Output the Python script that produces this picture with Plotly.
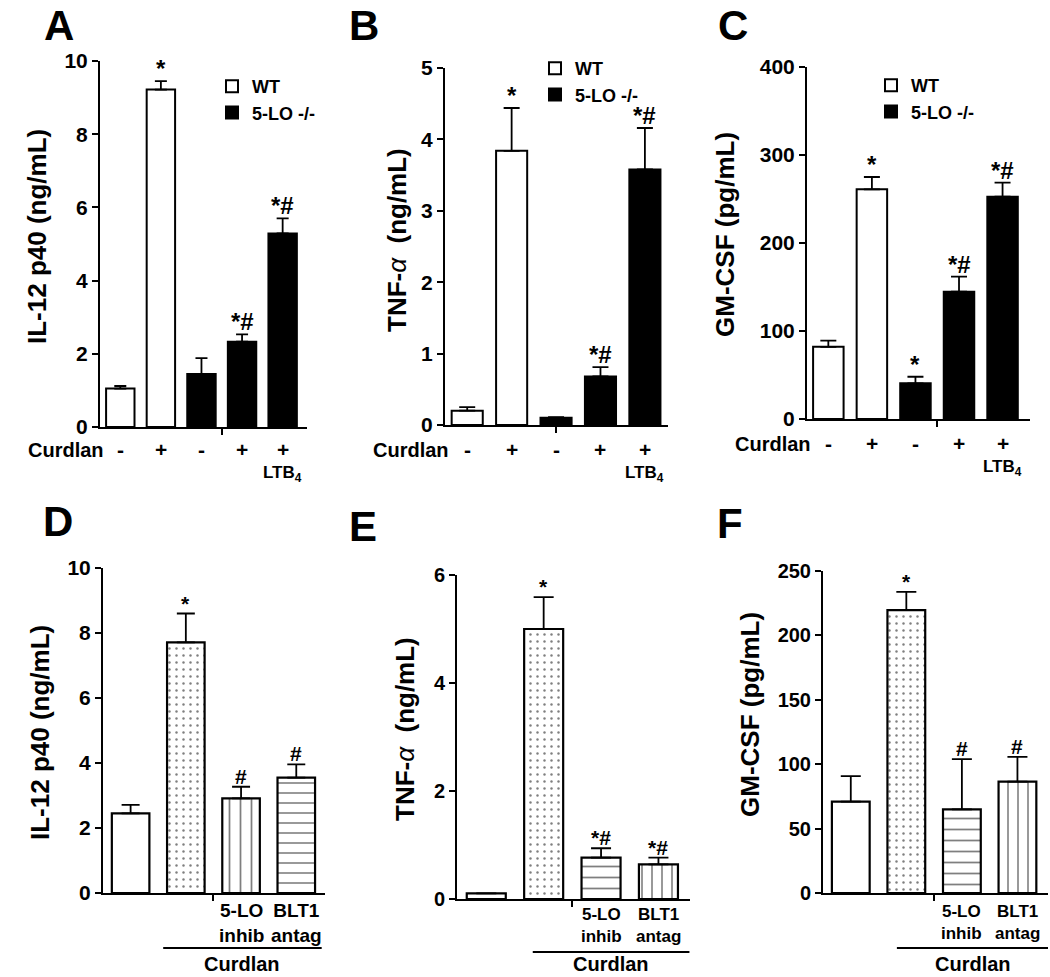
import plotly.graph_objects as go

W, H = 1050, 977
FONT = "Liberation Sans, Arial, Helvetica, sans-serif"

# ---------------- data ----------------
legend_names = ["WT", "5-LO -/-"]
top_positions_wt = [0, 1]
top_positions_ko = [2, 3, 4]
top_signs = ["-", "+", "-", "+", "+"]
top_extra = ["", "", "", "", "LTB<sub>4</sub>"]

il12_top = [1.05, 9.22, 1.45, 2.33, 5.29]
il12_top_err = [0.07, 0.23, 0.43, 0.20, 0.41]
il12_top_marks = ["", "*", "", "*#", "*#"]

tnf_top = [0.20, 3.84, 0.10, 0.68, 3.58]
tnf_top_err = [0.05, 0.60, 0.01, 0.13, 0.58]
tnf_top_marks = ["", "*", "", "*#", "*#"]

gmcsf_top = [82, 261, 40.5, 144.7, 252.6]
gmcsf_top_err = [7, 14, 7.5, 17, 16]
gmcsf_top_marks = ["", "*", "*", "*#", "*#"]

bottom_labels = ["", "", "5-LO<br>inhib", "BLT1<br>antag"]
bottom_group_label = "Curdlan"

il12_bot = [2.45, 7.71, 2.91, 3.55]
il12_bot_err = [0.26, 0.89, 0.36, 0.41]
il12_bot_marks = ["", "*", "#", "#"]

tnf_bot = [0.105, 5.0, 0.765, 0.64]
tnf_bot_err = [0.0, 0.59, 0.175, 0.125]
tnf_bot_marks = ["", "*", "*#", "*#"]

gmcsf_bot = [70.9, 219.6, 65, 86.4]
gmcsf_bot_err = [19.9, 14.2, 39, 19.3]
gmcsf_bot_marks = ["", "*", "#", "#"]

# ---------------- helpers ----------------
def px(p):
    return p / W

def py(p):
    return 1 - p / H

def fnt(size, weight="bold"):
    return dict(family=FONT, size=size, color="black", weight=weight)

TNF_TITLE = 'TNF-<span style="font-weight:normal"><i>α</i></span>  (ng/mL)'

panels = [
    dict(letter="A", letter_xy=(59, 0), letter_anchor="top", vals=il12_top, err=il12_top_err,
         marks=il12_top_marks, title="IL-12 p40 (ng/mL)", title_xy=(37, 237), ymax=10, dtick=2,
         xdom=(100, 307), ydom=(61, 427), xr=(-0.5, 4.6), mid=2.5, tickfs=21, cap=6,
         legend_x=212, legend_y=68, sign_y=450, curd_right=106, ltb_y=474),
    dict(letter="B", letter_xy=(364, 0), letter_anchor="top", vals=tnf_top, err=tnf_top_err,
         marks=tnf_top_marks, title=TNF_TITLE, title_xy=(397, 240), ymax=5, dtick=1,
         xdom=(445, 668), ydom=(68, 425), xr=(-0.5, 4.52), mid=2.0, tickfs=21, cap=8,
         legend_x=535, legend_y=50, sign_y=450, curd_right=451, ltb_y=474),
    dict(letter="C", letter_xy=(733, 0), letter_anchor="top", vals=gmcsf_top, err=gmcsf_top_err,
         marks=gmcsf_top_marks, title="GM-CSF (pg/mL)", title_xy=(725, 235), ymax=400, dtick=100,
         xdom=(807, 1030), ydom=(67, 419), xr=(-0.49, 4.63), mid=2.49, tickfs=21, cap=8,
         legend_x=871, legend_y=67, sign_y=444, curd_right=813, ltb_y=468),
    dict(letter="D", letter_xy=(58, 521), letter_anchor="middle", vals=il12_bot, err=il12_bot_err,
         marks=il12_bot_marks, title="IL-12 p40 (ng/mL)", title_xy=(40, 733), ymax=10, dtick=2,
         xdom=(103, 325), ydom=(568, 893), xr=(-0.5, 3.52), mid=1.5, tickfs=21, cap=9,
         patterns=["", ".", "|", "-"], lab_fs=19, lab_y=923, line=(0.59, 3.46), line_y=948),
    dict(letter="E", letter_xy=(363, 526), letter_anchor="middle", vals=tnf_bot, err=tnf_bot_err,
         marks=tnf_bot_marks, title=TNF_TITLE, title_xy=(405, 729), ymax=6, dtick=2,
         xdom=(457, 690), ydom=(575, 899), xr=(-0.51, 3.55), mid=1.5, tickfs=20, cap=10,
         patterns=["", ".", "-", "|"], lab_fs=17, lab_y=925, line=(0.81, 3.54), line_y=952),
    dict(letter="F", letter_xy=(730, 523), letter_anchor="middle", vals=gmcsf_bot, err=gmcsf_bot_err,
         marks=gmcsf_bot_marks, title="GM-CSF (pg/mL)", title_xy=(750, 715), ymax=250, dtick=50,
         xdom=(823, 1048), ydom=(571, 893), xr=(-0.5, 3.55), mid=1.5, tickfs=20, cap=10,
         patterns=["", ".", "-", "|"], lab_fs=17, lab_y=922, line=(0.83, 3.56), line_y=948),
]

fig = go.Figure()
annotations = []
shapes = []
layout_axes = {}

for k, p in enumerate(panels):
    n = k + 1
    xa = "x" if n == 1 else f"x{n}"
    ya = "y" if n == 1 else f"y{n}"
    xkey = "xaxis" if n == 1 else f"xaxis{n}"
    ykey = "yaxis" if n == 1 else f"yaxis{n}"
    vals, err = p["vals"], p["err"]
    top = k < 3

    def err_y(e):
        return dict(type="data", array=e, arrayminus=[0] * len(e), symmetric=False,
                    color="black", thickness=1.8, width=p["cap"])

    if top:
        lg = "legend" if n == 1 else f"legend{n}"
        groups = [(legend_names[0], top_positions_wt, "white"),
                  (legend_names[1], top_positions_ko, "black")]
        for name, pos, col in groups:
            fig.add_trace(go.Bar(
                x=pos, y=[vals[i] for i in pos], name=name, legend=lg,
                width=0.7, xaxis=xa, yaxis=ya,
                marker=dict(color=col, line=dict(color="black", width=2)),
                error_y=err_y([err[i] for i in pos]),
            ))
        layout_axes[lg] = dict(
            x=px(p["legend_x"]), y=py(p["legend_y"]), xanchor="left", yanchor="top",
            bgcolor="rgba(0,0,0,0)", font=fnt(18), tracegroupgap=0, itemwidth=30,
            traceorder="normal")
    else:
        pos = list(range(len(vals)))
        fig.add_trace(go.Bar(
            x=pos, y=vals, showlegend=False, width=0.68, xaxis=xa, yaxis=ya,
            marker=dict(color="white", line=dict(color="black", width=2.2),
                        pattern=dict(shape=p["patterns"], fgcolor="black", bgcolor="white",
                                     size=[8, 7, 11, 10], solidity=[0.1, 0.1, 0.16, 0.16],
                                     fillmode="overlay")),
            error_y=err_y(err),
        ))

    layout_axes[xkey] = dict(
        domain=[px(p["xdom"][0]), px(p["xdom"][1])], range=list(p["xr"]), anchor=ya,
        showline=True, linecolor="black", linewidth=2, showgrid=False, zeroline=False,
        tickvals=[p["mid"]], ticks="outside", ticklen=6, tickwidth=2, tickcolor="black",
        showticklabels=False, fixedrange=True, automargin=False)
    layout_axes[ykey] = dict(
        domain=[py(p["ydom"][1]), py(p["ydom"][0])], range=[0, p["ymax"]], anchor=xa,
        showline=True, linecolor="black", linewidth=2, showgrid=False, zeroline=False,
        dtick=p["dtick"], tick0=0, ticks="outside", ticklen=6, tickwidth=2, tickcolor="black",
        tickfont=fnt(p["tickfs"]), fixedrange=True, automargin=False)

    # panel letter
    annotations.append(dict(xref="paper", yref="paper", x=px(p["letter_xy"][0]), y=py(p["letter_xy"][1]),
                            text=p["letter"], showarrow=False, font=fnt(42),
                            xanchor="center", yanchor=p["letter_anchor"]))
    # y title
    annotations.append(dict(xref="paper", yref="paper", x=px(p["title_xy"][0]), y=py(p["title_xy"][1]),
                            text=p["title"], showarrow=False, font=fnt(26), textangle=-90,
                            xanchor="center", yanchor="middle"))
    # significance marks
    for i, m in enumerate(p["marks"]):
        if m:
            annotations.append(dict(xref=xa, yref=ya, x=i, y=vals[i] + err[i], text=m,
                                    showarrow=False, font=fnt(24 if top else 21),
                                    xanchor="center", yanchor="bottom", yshift=-3))
    if top:
        annotations.append(dict(xref="paper", yref="paper", x=px(p["curd_right"]), y=py(p["sign_y"]),
                                text="Curdlan", showarrow=False, font=fnt(20),
                                xanchor="right", yanchor="middle"))
        for i, s in enumerate(top_signs):
            annotations.append(dict(xref=xa, yref="paper", x=i, y=py(p["sign_y"]), text=s,
                                    showarrow=False, font=fnt(21), xanchor="center", yanchor="middle"))
        for i, s in enumerate(top_extra):
            if s:
                annotations.append(dict(xref=xa, yref="paper", x=i, y=py(p["ltb_y"]), text=s,
                                        showarrow=False, font=fnt(17), xanchor="center",
                                        yanchor="middle"))
    else:
        for i, s in enumerate(bottom_labels):
            if s:
                annotations.append(dict(xref=xa, yref="paper", x=i, y=py(p["lab_y"]), text=s,
                                        showarrow=False, font=fnt(p["lab_fs"]), xanchor="center",
                                        yanchor="middle"))
        x0, x1 = p["line"]
        shapes.append(dict(type="line", xref=xa, yref="paper", x0=x0, x1=x1,
                           y0=py(p["line_y"]), y1=py(p["line_y"]),
                           line=dict(color="black", width=2)))
        annotations.append(dict(xref=xa, yref="paper", x=(x0 + x1) / 2, y=py(977),
                                text=bottom_group_label, showarrow=False, font=fnt(20),
                                xanchor="center", yanchor="bottom"))

fig.update_layout(
    width=W, height=H, margin=dict(l=0, r=0, t=0, b=0, autoexpand=False),
    paper_bgcolor="white", plot_bgcolor="white",
    showlegend=True, bargap=0.3,
    annotations=annotations, shapes=shapes,
    font=fnt(18),
    **layout_axes,
)

fig.write_html(
    "out.html",
    config={"displayModeBar": False},
    post_script="document.body.style.margin='0';document.body.style.overflow='hidden';",
)
